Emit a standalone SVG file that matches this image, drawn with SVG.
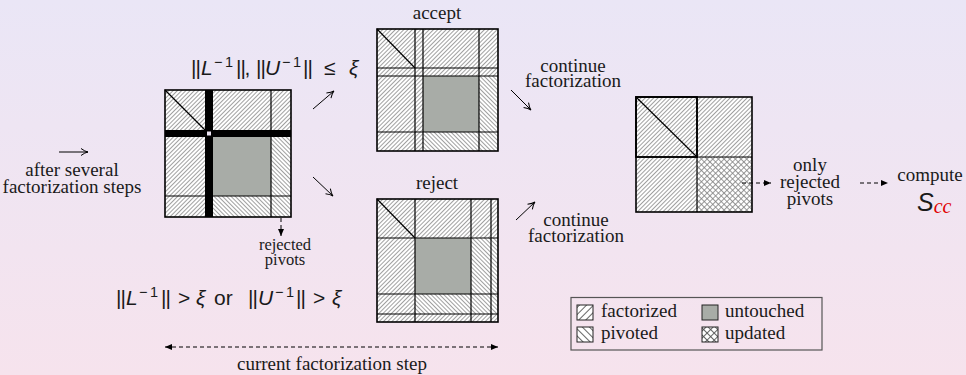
<svg xmlns="http://www.w3.org/2000/svg" width="966" height="375" viewBox="0 0 966 375">
<defs>
<linearGradient id="bg" x1="0" y1="0" x2="0" y2="1">
<stop offset="0" stop-color="#eae6f6"/>
<stop offset="1" stop-color="#f6e3ed"/>
</linearGradient>
<pattern id="fac" width="3" height="3" patternUnits="userSpaceOnUse" patternTransform="rotate(45)">
<rect width="3" height="3" fill="#fff"/>
<line x1="0.5" y1="0" x2="0.5" y2="3" stroke="#808080" stroke-width="0.75"/>
</pattern>
<pattern id="piv" width="3" height="3" patternUnits="userSpaceOnUse" patternTransform="rotate(-45)">
<rect width="3" height="3" fill="#fff"/>
<line x1="0.5" y1="0" x2="0.5" y2="3" stroke="#808080" stroke-width="0.75"/>
</pattern>
<pattern id="upd" width="4" height="4" patternUnits="userSpaceOnUse" patternTransform="rotate(45)">
<rect width="4" height="4" fill="#fff"/>
<line x1="0.5" y1="0" x2="0.5" y2="4" stroke="#808080" stroke-width="0.8"/>
<line x1="0" y1="0.5" x2="4" y2="0.5" stroke="#808080" stroke-width="0.8"/>
</pattern>
<pattern id="facL" width="5" height="5" patternUnits="userSpaceOnUse" patternTransform="rotate(45)">
<rect width="5" height="5" fill="#fff"/>
<line x1="0.5" y1="0" x2="0.5" y2="5" stroke="#555" stroke-width="0.9"/>
</pattern>
<pattern id="pivL" width="5" height="5" patternUnits="userSpaceOnUse" patternTransform="rotate(-45)">
<rect width="5" height="5" fill="#fff"/>
<line x1="0.5" y1="0" x2="0.5" y2="5" stroke="#555" stroke-width="0.9"/>
</pattern>
<pattern id="updL" width="5" height="5" patternUnits="userSpaceOnUse" patternTransform="rotate(45)">
<rect width="5" height="5" fill="#fff"/>
<line x1="0.5" y1="0" x2="0.5" y2="5" stroke="#555" stroke-width="0.9"/>
<line x1="0" y1="0.5" x2="5" y2="0.5" stroke="#555" stroke-width="0.9"/>
</pattern>
<marker id="open" markerWidth="10" markerHeight="10" refX="9" refY="5" orient="auto" markerUnits="userSpaceOnUse">
<path d="M2,1.5 Q6,4.5 9,5 Q6,5.5 2,8.5" fill="none" stroke="#000" stroke-width="1"/>
</marker>
<marker id="tri" markerWidth="8" markerHeight="8" refX="7" refY="4" orient="auto-start-reverse" markerUnits="userSpaceOnUse">
<path d="M0,1 L7,4 L0,7 Z" fill="#000"/>
</marker>
</defs>
<style>
.t{font-family:'Liberation Serif','DejaVu Serif',serif;font-size:19px;fill:#1a1a1a;text-anchor:middle}
.s{font-family:'Liberation Serif','DejaVu Serif',serif;font-size:16.5px;fill:#1a1a1a;text-anchor:middle}
.l{font-family:'Liberation Serif','DejaVu Serif',serif;font-size:19px;fill:#1a1a1a}
.m{font-family:'Liberation Sans',Arial,sans-serif;font-size:21px;fill:#1a1a1a}
.i{font-style:italic}
.sup{font-size:14.5px}
.ln{stroke:#000;stroke-width:1.2;fill:none}
.box{stroke:#000;stroke-width:1.6;fill:none}
.gray{fill:#a8aca7}
.sol{stroke:#000;stroke-width:1;fill:none;marker-end:url(#open)}
.dash{stroke:#000;stroke-width:1;fill:none;stroke-dasharray:4,3}
</style>
<rect width="966" height="375" fill="url(#bg)"/>

<g id="label-initial">
<text class="t" x="72" y="176">after several</text>
<text class="t" x="72" y="193">factorization steps</text>
</g>

<g id="matrix-current">
<rect x="165" y="90" width="126" height="127" fill="url(#fac)"/>
<rect x="271" y="137" width="20" height="80" fill="url(#piv)"/>
<rect x="213" y="196" width="58" height="21" fill="url(#piv)"/>
<rect class="gray" x="213" y="137" width="58" height="59"/>
<line class="ln" x1="165" y1="90" x2="205" y2="130"/>
<line class="ln" x1="271" y1="90" x2="271" y2="217"/>
<line class="ln" x1="165" y1="196" x2="291" y2="196"/>
<rect x="205" y="90" width="8" height="127" fill="#000"/>
<rect x="165" y="130" width="126" height="7" fill="#000"/>
<rect x="207" y="131.5" width="4" height="4" fill="#ece4f2"/>
<rect class="box" x="165" y="90" width="126" height="127"/>
</g>

<g id="label-rejected">
<text class="s" x="285" y="250">rejected</text>
<text class="s" x="285" y="265">pivots</text>
</g>

<g id="cond-accept">
<text class="m" y="75"><tspan x="191">|</tspan><tspan x="195.5">|</tspan><tspan class="i" x="201">L</tspan><tspan class="sup" x="214" y="67">−</tspan><tspan class="sup" x="225" y="67">1</tspan><tspan x="236" y="75">|</tspan><tspan x="240.5">|</tspan><tspan x="244.5">,</tspan><tspan x="256">|</tspan><tspan x="260.5">|</tspan><tspan class="i" x="265">U</tspan><tspan class="sup" x="282" y="67">−</tspan><tspan class="sup" x="293" y="67">1</tspan><tspan x="303" y="75">|</tspan><tspan x="307.5">|</tspan><tspan x="324">≤</tspan><tspan class="i" x="349">ξ</tspan></text>
</g>
<g id="cond-reject">
<text class="m" y="305"><tspan x="116">|</tspan><tspan x="120.5">|</tspan><tspan class="i" x="126">L</tspan><tspan class="sup" x="139" y="297">−</tspan><tspan class="sup" x="150" y="297">1</tspan><tspan x="161" y="305">|</tspan><tspan x="165.5">|</tspan><tspan x="178">&gt;</tspan><tspan class="i" x="196">ξ</tspan><tspan x="214">or</tspan><tspan x="248">|</tspan><tspan x="252.5">|</tspan><tspan class="i" x="258">U</tspan><tspan class="sup" x="275" y="297">−</tspan><tspan class="sup" x="286" y="297">1</tspan><tspan x="296" y="305">|</tspan><tspan x="300.5">|</tspan><tspan x="313">&gt;</tspan><tspan class="i" x="332">ξ</tspan></text>
</g>

<g id="matrix-accept">
<text class="t" x="437" y="19">accept</text>
<rect x="377" y="29" width="121" height="122" fill="url(#fac)"/>
<rect x="479" y="76" width="19" height="75" fill="url(#piv)"/>
<rect x="423" y="132" width="56" height="19" fill="url(#piv)"/>
<rect class="gray" x="423" y="76" width="56" height="56"/>
<line class="ln" x1="377" y1="29" x2="415" y2="68"/>
<line class="ln" x1="415" y1="29" x2="415" y2="151"/>
<line class="ln" x1="423" y1="29" x2="423" y2="151"/>
<line class="ln" x1="479" y1="29" x2="479" y2="151"/>
<line class="ln" x1="377" y1="68" x2="498" y2="68"/>
<line class="ln" x1="377" y1="76" x2="498" y2="76"/>
<line class="ln" x1="377" y1="132" x2="498" y2="132"/>
<rect class="box" x="377" y="29" width="121" height="122"/>
</g>

<g id="matrix-reject">
<text class="t" x="437" y="189">reject</text>
<rect x="377" y="199" width="121" height="123" fill="url(#fac)"/>
<rect x="471" y="238" width="27" height="76" fill="url(#piv)"/>
<rect x="415" y="294" width="56" height="20" fill="url(#piv)"/>
<rect class="gray" x="415" y="238" width="56" height="56"/>
<line class="ln" x1="377" y1="199" x2="415" y2="238"/>
<line class="ln" x1="415" y1="199" x2="415" y2="322"/>
<line class="ln" x1="471" y1="199" x2="471" y2="322"/>
<line class="ln" x1="491" y1="199" x2="491" y2="322"/>
<line class="ln" x1="377" y1="238" x2="498" y2="238"/>
<line class="ln" x1="377" y1="294" x2="498" y2="294"/>
<line class="ln" x1="377" y1="314" x2="498" y2="314"/>
<rect class="box" x="377" y="199" width="121" height="123"/>
</g>

<g id="label-continue-top">
<text class="t" x="573" y="72">continue</text>
<text class="t" x="573" y="87">factorization</text>
</g>
<g id="label-continue-bottom">
<text class="t" x="576" y="226">continue</text>
<text class="t" x="576" y="242">factorization</text>
</g>

<g id="matrix-final">
<rect x="636" y="97" width="116" height="115" fill="url(#fac)"/>
<rect x="697" y="157" width="55" height="55" fill="url(#upd)"/>
<line class="ln" x1="636" y1="97" x2="697" y2="157"/>
<line class="ln" x1="697" y1="97" x2="697" y2="212"/>
<line class="ln" x1="636" y1="157" x2="752" y2="157"/>
<rect class="box" x="636" y="97" width="116" height="115"/>
<rect x="636" y="97" width="61" height="60" fill="none" stroke="#000" stroke-width="1.8"/>
</g>

<g id="label-only">
<text class="t" x="810" y="171">only</text>
<text class="t" x="810" y="188">rejected</text>
<text class="t" x="810" y="205">pivots</text>
</g>

<g id="label-compute">
<text class="t" x="930" y="181">compute</text>
<text font-family="'Liberation Sans', Arial, sans-serif" font-style="italic" font-size="25" fill="#1a1a1a" x="917" y="211">S<tspan font-family="'Liberation Serif', serif" font-size="20" fill="#e00000" dy="2">cc</tspan></text>
</g>

<g id="label-step">
<text class="t" x="332" y="370">current factorization step</text>
</g>

<g id="legend">
<rect x="571" y="297.5" width="251" height="52.5" fill="none" stroke="#555" stroke-width="1.2"/>
<rect x="577" y="305" width="16" height="15" fill="url(#facL)" stroke="#222" stroke-width="1"/>
<text class="l" x="601" y="317">factorized</text>
<rect x="577" y="327" width="16" height="15" fill="url(#pivL)" stroke="#222" stroke-width="1"/>
<text class="l" x="601" y="339">pivoted</text>
<rect x="702" y="305" width="16" height="15" class="gray" stroke="#222" stroke-width="1"/>
<text class="l" x="725" y="317">untouched</text>
<rect x="702" y="327" width="16" height="15" fill="url(#updL)" stroke="#222" stroke-width="1"/>
<text class="l" x="725" y="339">updated</text>
</g>

<g id="connectors">
<line class="sol" x1="59" y1="152" x2="88" y2="152"/>
<line class="sol" x1="313" y1="109" x2="334" y2="91"/>
<line class="sol" x1="313" y1="177" x2="333" y2="196"/>
<line class="sol" x1="511" y1="90" x2="531" y2="110"/>
<line class="sol" x1="516" y1="220" x2="535" y2="202"/>
<line class="dash" x1="281" y1="218" x2="281" y2="236" marker-end="url(#tri)"/>
<line class="dash" x1="742" y1="183" x2="771" y2="183" marker-end="url(#tri)"/>
<line class="dash" x1="860" y1="183" x2="888" y2="183" marker-end="url(#tri)"/>
<line class="dash" x1="165" y1="347" x2="498" y2="347" marker-start="url(#tri)" marker-end="url(#tri)"/>
</g>
</svg>
